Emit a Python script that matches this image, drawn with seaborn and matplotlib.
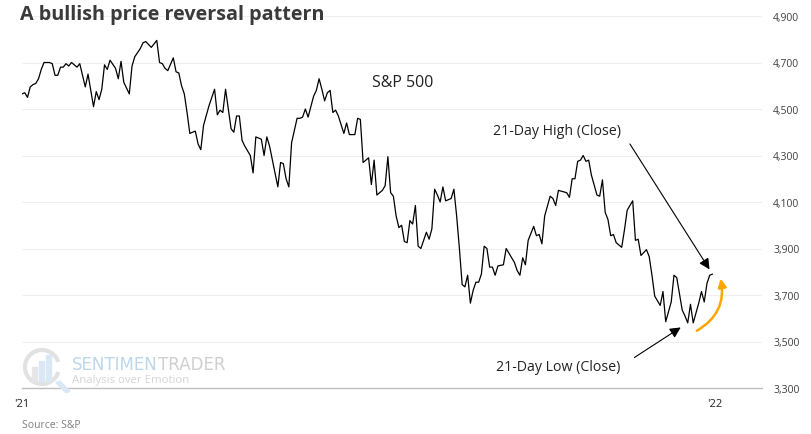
import matplotlib
matplotlib.use("Agg")
import matplotlib.pyplot as plt
import matplotlib.patches as mpatches
import seaborn as sns
import pandas as pd
from matplotlib.ticker import FuncFormatter

# S&P 500 closes (trading-day index, close)
days = [0, 1, 2, 3, 4, 5, 6, 7, 8, 10, 11, 12, 13, 14, 15, 16, 17, 18, 19, 20,
        21, 23, 24, 26, 27, 28, 29, 30, 31, 32, 34, 35, 36, 37, 39, 40, 41, 43, 44, 45,
        47, 49, 50, 51, 52, 53, 55, 56, 57, 58, 59, 60, 61, 63, 64, 65, 66, 68, 70, 71,
        72, 73, 74, 76, 77, 78, 79, 80, 81, 83, 84, 85, 87, 88, 89, 90, 93, 94, 95, 96,
        97, 98, 100, 101, 102, 103, 104, 105, 106, 107, 108, 109, 110, 111, 112, 113, 114, 115, 117, 118,
        119, 121, 122, 123, 124, 126, 127, 128, 129, 131, 132, 133, 134, 135, 136, 137, 138, 139, 140, 141,
        142, 143, 144, 145, 146, 147, 148, 149, 150, 151, 152, 153, 154, 156, 157, 158, 159, 160, 161, 162,
        163, 164, 165, 166, 167, 168, 169, 170, 171, 172, 173, 175, 176, 177, 179, 180, 181, 182, 183, 184,
        186, 187, 188, 189, 190, 192, 193, 194, 195, 198, 199, 200, 201, 202, 203, 204, 205, 206, 207, 209,
        210, 211, 212, 213, 214, 215, 216, 218, 219, 220, 222, 223, 224, 225, 227, 228, 229, 230, 232, 233,
        234, 236, 237, 238, 240, 241, 242, 243, 244, 246, 247, 248, 249, 250, 251]
spx = [4565, 4570, 4550, 4595, 4605, 4610, 4630, 4670, 4700, 4700, 4695, 4645, 4645, 4680, 4680, 4695, 4685, 4700, 4690, 4680,
       4695, 4595, 4650, 4510, 4575, 4540, 4585, 4690, 4670, 4710, 4675, 4630, 4705, 4615, 4565, 4685, 4725, 4760, 4785, 4790,
       4765, 4795, 4700, 4695, 4675, 4665, 4720, 4660, 4655, 4600, 4565, 4485, 4395, 4405, 4350, 4325, 4430, 4515, 4585, 4475,
       4495, 4485, 4585, 4415, 4400, 4470, 4470, 4365, 4340, 4300, 4225, 4380, 4370, 4300, 4380, 4340, 4165, 4270, 4265, 4200,
       4165, 4355, 4460, 4460, 4465, 4500, 4465, 4510, 4555, 4580, 4630, 4585, 4535, 4570, 4580, 4485, 4495, 4470, 4395, 4440,
       4390, 4390, 4460, 4455, 4270, 4290, 4175, 4280, 4130, 4150, 4170, 4295, 4140, 4125, 4040, 3990, 4000, 3930, 3925, 4020,
       4005, 4085, 3910, 3900, 3935, 3970, 3940, 3985, 4155, 4130, 4100, 4165, 4105, 4115, 4155, 4040, 3900, 3745, 3735, 3785,
       3665, 3720, 3755, 3755, 3790, 3910, 3900, 3820, 3820, 3785, 3825, 3830, 3900, 3880, 3840, 3805, 3785, 3860, 3830, 3935,
       3995, 3955, 3960, 3920, 4040, 4125, 4115, 4085, 4150, 4140, 4120, 4200, 4200, 4275, 4280, 4300, 4275, 4280, 4215, 4130,
       4125, 4195, 4055, 4025, 3955, 3960, 3925, 3905, 3980, 4065, 4105, 3935, 3940, 3870, 3895, 3865, 3785, 3695, 3655, 3715,
       3585, 3670, 3785, 3775, 3635, 3610, 3580, 3660, 3580, 3665, 3715, 3670, 3750, 3785, 3790]

x_ticks = [0, 252]
x_tick_labels = ["'21", "'22"]
y_ticks = [3300, 3500, 3700, 3900, 4100, 4300, 4500, 4700, 4900]

df = pd.DataFrame({"day": days, "close": spx})

sns.set_style("white")
plt.rcParams["font.family"] = ["Open Sans", "DejaVu Sans"]

W, H = 812, 435
fig = plt.figure(figsize=(W / 100, H / 100), dpi=100)
ax = fig.add_axes([22 / W, 46 / H, 740 / W, 372 / H])

# watermark logo (drawn behind everything)
logo = dict(transform=fig.transFigure, zorder=0)
fig.patches.append(mpatches.Arc((42 / W, 1 - 368 / H), 34 / W, 34 / H, theta1=30, theta2=330,
                                lw=3, color="#e2e2e2", **logo))
for bx, bh, col in [(32, 14, "#e6e6e6"), (39, 20, "#d9e8f4"), (46, 26, "#d9e8f4")]:
    fig.patches.append(mpatches.Rectangle((bx / W, 1 - 382 / H), 5 / W, bh / H,
                                          color=col, **logo))
fig.patches.append(mpatches.FancyArrow(58 / W, 1 - 383 / H, 10 / W, -10 / H, width=0.006,
                                       head_width=0, color="#d9e8f4", **logo))

sns.lineplot(data=df, x="day", y="close", color="black", linewidth=0.9, ax=ax)
ax.patch.set_alpha(0)

ax.set_xlim(0, 269)
ax.set_ylim(3300, 4900)
ax.set_xlabel("")
ax.set_ylabel("")

# axes styling
for side in ["top", "left", "right"]:
    ax.spines[side].set_visible(False)
ax.spines["bottom"].set_color("#bfbfbf")
ax.spines["bottom"].set_linewidth(1.0)

ax.yaxis.tick_right()
ax.set_yticks(y_ticks)
ax.yaxis.set_major_formatter(FuncFormatter(lambda v, p: f"{int(v):,}"))
ax.tick_params(axis="y", length=0, pad=8, labelsize=7.5, labelcolor="#404040")
ax.set_xticks(x_ticks)
ax.set_xticklabels(x_tick_labels)
ax.tick_params(axis="x", length=4, width=0.8, color="#bfbfbf", pad=3,
               labelsize=8, labelcolor="#222222")
ax.grid(axis="y", color="#efefef", linewidth=0.8)
ax.grid(axis="x", visible=False)

# title + notes
fig.text(20 / W, 1 - 15 / H, "A bullish price reversal pattern", fontsize=14.2,
         fontweight="bold", color="#3a3a3a", va="center", ha="left")
fig.text(22 / W, 1 - 426 / H, "Source: S&P", fontsize=7.5, color="#7f7f7f",
         va="center", ha="left")

ax.text(0.4726, 0.823, "S&P 500", transform=ax.transAxes, fontsize=11.5,
        color="#222222", va="center", ha="left")

# watermark text
wm1 = fig.text(72 / W, 1 - 365 / H, "SENTIMEN", fontsize=12, color="#bcd7ec",
               family="Liberation Sans Narrow", va="center", ha="left")
fig.canvas.draw()
bb = wm1.get_window_extent()
fig.text(bb.x1 / fig.bbox.width, 1 - 365 / H, "TRADER", fontsize=12, color="#cfcfcf",
         family="Liberation Sans Narrow", va="center", ha="left")
fig.text(72 / W, 1 - 380 / H, "Analysis over Emotion", fontsize=8.2, color="#d5d5d5",
         va="center", ha="left")

# annotations
hi_day, hi_val = days[-1], spx[-1]
lo_idx = spx.index(min(spx[-15:]), len(spx) - 15)
lo_day, lo_val = days[lo_idx], spx[lo_idx]

arrow_kw = dict(arrowstyle="-|>", color="black", lw=0.8, mutation_scale=16)
ax.annotate("21-Day High (Close)", xy=(hi_day, hi_val), xycoords="data",
            xytext=(0.81, 0.692), textcoords="axes fraction", fontsize=10.2,
            color="#222222", ha="right", va="center",
            arrowprops=dict(**arrow_kw, relpos=(1.0, 0.5), shrinkA=7, shrinkB=4))
ax.annotate("21-Day Low (Close)", xy=(lo_day, lo_val), xycoords="data",
            xytext=(0.809, 0.058), textcoords="axes fraction", fontsize=10.2,
            color="#222222", ha="right", va="center",
            arrowprops=dict(**arrow_kw, relpos=(1.0, 0.5), shrinkA=9, shrinkB=6))

# orange reversal arrow
ax.annotate("", xy=(0.944, 0.294), xycoords="axes fraction",
            xytext=(0.912, 0.154), textcoords="axes fraction",
            arrowprops=dict(arrowstyle="-|>", color="#ffa500", lw=1.8,
                            mutation_scale=12, shrinkA=0, shrinkB=0,
                            connectionstyle="arc3,rad=0.35"))

fig.savefig("out.png", dpi=100)
